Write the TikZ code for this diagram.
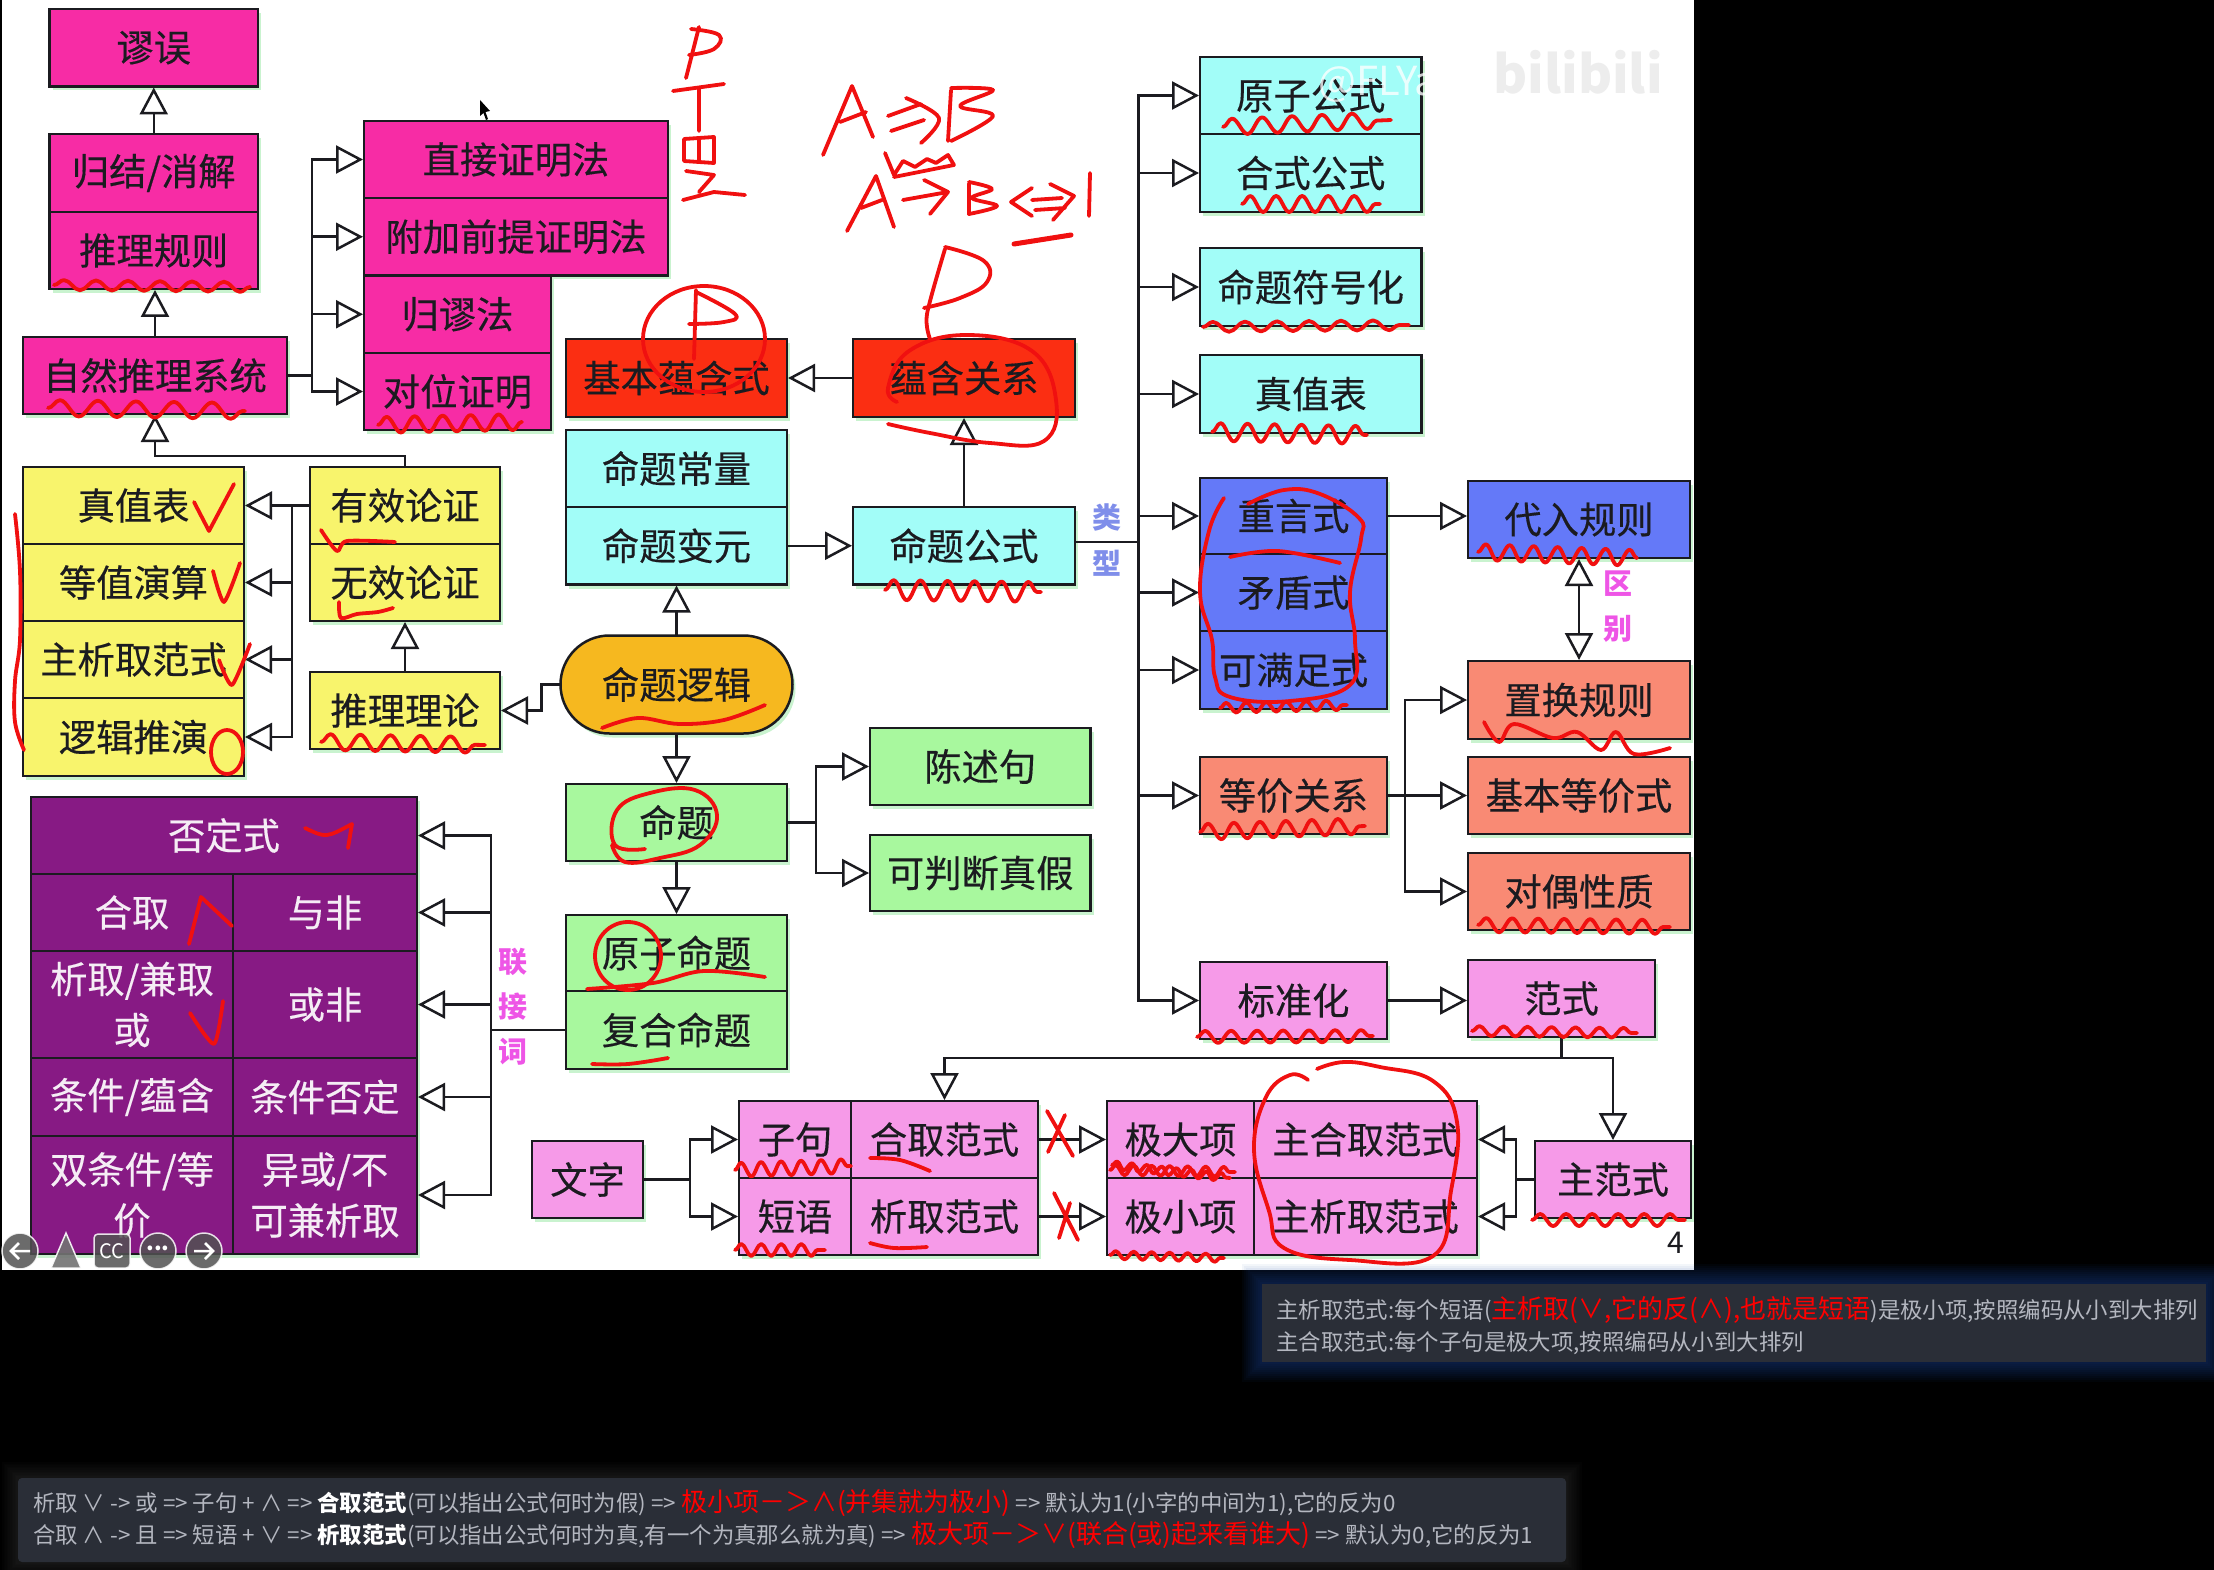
\documentclass[tikz,border=0pt]{standalone}
\usepackage{fontspec}
\setmainfont{Noto Sans CJK SC}
\newfontfamily\boxfont[FakeBold=0.35]{Noto Sans CJK SC}
\usetikzlibrary{arrows.meta,shapes.misc,shadows,calc,decorations.pathmorphing}
\definecolor{cmag}{HTML}{F72CA5}
\definecolor{cred}{HTML}{FB2E12}
\definecolor{ccya}{HTML}{A2FDF8}
\definecolor{cyel}{HTML}{F8F46C}
\definecolor{cpur}{HTML}{871A84}
\definecolor{cgre}{HTML}{A8F89E}
\definecolor{cblu}{HTML}{6479F8}
\definecolor{csal}{HTML}{F98A74}
\definecolor{cpin}{HTML}{F69AE8}
\definecolor{cora}{HTML}{F6B81F}
\definecolor{cink}{HTML}{1B1B20}
\definecolor{cshd}{HTML}{C9F3CF}
\definecolor{cpan}{HTML}{2A2E37}
\definecolor{cgry}{HTML}{B4B7C0}
\definecolor{chnd}{HTML}{F01010}
\definecolor{clab}{HTML}{EE55E6}
\definecolor{ctyp}{HTML}{7F8EEA}
\definecolor{cgl}{HTML}{1E4FA8}
\tikzset{
  x=1pt,y=-1pt,
  nodebox/.style={draw=cink,line width=2.5pt,inner sep=0pt,outer sep=0pt,text=cink,align=center,
    font=\boxfont\fontsize{37.3}{51}\selectfont,
    general shadow={fill=cshd,shadow xshift=3pt,shadow yshift=-4pt}},
  whitetext/.style={text=white!92!cpur},
  arr/.style={draw=cink,line width=2.5pt,-{Triangle[open,length=27pt,width=28pt,fill=white]},shorten >=1pt},
  biarr/.style={draw=cink,line width=2.5pt,{Triangle[open,length=27pt,width=28pt,fill=white]}-{Triangle[open,length=27pt,width=28pt,fill=white]},shorten >=1pt,shorten <=1pt},
  ln/.style={draw=cink,line width=2.5pt},
  sidelabel/.style={font=\fontsize{29}{32}\selectfont\bfseries,inner sep=0pt},
  hw/.style={draw=chnd,line width=3.8pt,line cap=round,line join=round},
  sq/.style 2 args={hw,decorate,decoration={snake,amplitude=#1pt,segment length=#2pt}},
  paneltext/.style={anchor=base west,inner sep=0pt,text=cgry,font=\fontsize{22.4}{26}\selectfont},
  navc/.style={fill=black!68,draw=white!75,line width=1.5pt,opacity=.85},
}
\newcommand{\boxnode}[7]{\node[nodebox,fill=#6,minimum width={#4-#2},minimum height={#5-#3},anchor=north west,#7] (#1) at (#2,#3)}
\newcommand{\redbig}[1]{{\fontsize{26}{30}\selectfont\color{red}#1}}
\newcommand{\wb}[1]{{\bfseries\color{white}#1}}
\begin{document}
\begin{tikzpicture}
\useasboundingbox (0,0) rectangle (2214,1570);
\fill[black] (0,0) rectangle (2214,1570);
\fill[white] (2,0) rectangle (1694,1270);
% glow panels
\foreach \i in {1,...,10}{
  \fill[cgl,opacity=.05] (1262-\i*2,1284-\i*2) rectangle (2206+\i*2,1362+\i*2);
  \fill[white,opacity=.012] (18-\i*1.6,1478-\i*1.6) rectangle (1566+\i*1.6,1562+\i*1.6);
}
\fill[cpan] (1262,1284) rectangle (2206,1362);
\fill[cpan,rounded corners=4pt] (18,1478) rectangle (1566,1562);
% left column
\boxnode{miuwu}{49.5}{9}{258}{86.5}{cmag}{}{谬误};
\boxnode{guijie}{49.5}{134}{258}{212}{cmag}{}{归结/消解};
\boxnode{tuili}{49.5}{212}{258}{289}{cmag}{}{推理规则};
\boxnode{ziran}{23}{337}{287}{414}{cmag}{}{自然推理系统};
\boxnode{zhijie}{364}{121}{668}{198}{cmag}{}{直接证明法};
\boxnode{fujia}{364}{198}{668}{275.5}{cmag}{}{附加前提证明法};
\boxnode{guimiu}{364}{275.5}{551}{353}{cmag}{}{归谬法};
\boxnode{duiwei}{364}{353}{551}{430}{cmag}{}{对位证明};
\boxnode{jiben}{566}{339}{787}{417}{cred}{}{基本蕴含式};
\boxnode{yunhan}{853}{339}{1075}{417}{cred}{}{蕴含关系};
\boxnode{changl}{566}{430}{787}{507}{ccya}{}{命题常量};
\boxnode{bianyuan}{566}{507}{787}{584.5}{ccya}{}{命题变元};
\boxnode{gongshi}{853}{507}{1075}{584.5}{ccya}{}{命题公式};
\boxnode{zhenzhi}{23}{467}{244}{544}{cyel}{}{真值表};
\boxnode{dengzhi}{23}{544}{244}{621}{cyel}{}{等值演算};
\boxnode{zhuxi}{23}{621}{244}{698}{cyel}{}{主析取范式};
\boxnode{luoji}{23}{698}{244}{776}{cyel}{}{逻辑推演};
\boxnode{youxiao}{310}{467}{500}{544}{cyel}{}{有效论证};
\boxnode{wuxiao}{310}{544}{500}{621}{cyel}{}{无效论证};
\boxnode{tlilun}{310}{672}{500}{749}{cyel}{}{推理理论};
\node[nodebox,fill=cora,shape=rounded rectangle,minimum width=232,minimum height=98] (mingluo) at (676.5,684.5) {命题逻辑};
\boxnode{mingti}{566}{784}{787}{861}{cgre}{}{命题};
\boxnode{yuanzi}{566}{915}{787}{991}{cgre}{}{原子命题};
\boxnode{fuhe}{566}{991}{787}{1069}{cgre}{}{复合命题};
\boxnode{chenshu}{870}{728}{1090.5}{805}{cgre}{}{陈述句};
\boxnode{panduan}{870}{835}{1090.5}{911}{cgre}{}{可判断真假};
% connectives
\boxnode{fouding}{31}{797}{417}{874}{cpur}{whitetext}{否定式};
\boxnode{hequ}{31}{874}{233}{951}{cpur}{whitetext}{合取};
\boxnode{yufei}{233}{874}{417}{951}{cpur}{whitetext}{与非};
\boxnode{xiqu}{31}{951}{233}{1058}{cpur}{whitetext}{析取/兼取\\或};
\boxnode{huofei}{233}{951}{417}{1058}{cpur}{whitetext}{或非};
\boxnode{tiaojian}{31}{1058}{233}{1136}{cpur}{whitetext}{条件/蕴含};
\boxnode{tiaofou}{233}{1058}{417}{1136}{cpur}{whitetext}{条件否定};
\boxnode{shuang}{31}{1136}{233}{1254}{cpur}{whitetext}{双条件/等\\价};
\boxnode{yihuo}{233}{1136}{417}{1254}{cpur}{whitetext}{异或/不\\可兼析取};
% bottom row
\boxnode{wenzi}{532}{1141}{643}{1218}{cpin}{}{文字};
\boxnode{ziju}{739}{1101}{851}{1178}{cpin}{}{子句};
\boxnode{duanyu}{739}{1178}{851}{1255}{cpin}{}{短语};
\boxnode{hefan}{851}{1101}{1038}{1178}{cpin}{}{合取范式};
\boxnode{xifan}{851}{1178}{1038}{1255}{cpin}{}{析取范式};
\boxnode{jida}{1107}{1101}{1254}{1178}{cpin}{}{极大项};
\boxnode{jixiao}{1107}{1178}{1254}{1255}{cpin}{}{极小项};
\boxnode{zhuhe}{1254}{1101}{1477}{1178}{cpin}{}{主合取范式};
\boxnode{zhuxifan}{1254}{1178}{1477}{1255}{cpin}{}{主析取范式};
\boxnode{zhufan}{1535}{1141}{1691}{1218}{cpin}{}{主范式};
\boxnode{fanshi}{1468}{960}{1655}{1037}{cpin}{}{范式};
\boxnode{biaozhun}{1200}{962}{1387}{1039}{cpin}{}{标准化};
% right column
\boxnode{yzgs}{1200}{57}{1421.5}{134}{ccya}{}{原子公式};
\boxnode{hsgs}{1200}{134}{1421.5}{212}{ccya}{}{合式公式};
\boxnode{fuhao}{1200}{248}{1421.5}{326}{ccya}{}{命题符号化};
\boxnode{zzb}{1200}{355}{1421.5}{433}{ccya}{}{真值表};
\boxnode{chongyan}{1200}{478}{1387}{554}{cblu}{}{重言式};
\boxnode{maodun}{1200}{554}{1387}{631}{cblu}{}{矛盾式};
\boxnode{keman}{1200}{631}{1387}{709}{cblu}{}{可满足式};
\boxnode{dairu}{1468}{481}{1690}{558}{cblu}{}{代入规则};
\boxnode{zhihuan}{1468}{661}{1690}{739}{csal}{}{置换规则};
\boxnode{dengjia}{1200}{757}{1387}{834}{csal}{}{等价关系};
\boxnode{jbdj}{1468}{757}{1690}{834}{csal}{}{基本等价式};
\boxnode{duiou}{1468}{853}{1690}{930}{csal}{}{对偶性质};
% side labels
\node[sidelabel,text=ctyp] (leiA) at (1107,517.5) {类};
\node[sidelabel,text=ctyp] (leiB) at (1107,563) {型};
\node[sidelabel,text=clab] (quA) at (1618,584) {区};
\node[sidelabel,text=clab] (quB) at (1618,629) {别};
\node[sidelabel,text=clab] (lianA) at (513,962) {联};
\node[sidelabel,text=clab] (lianB) at (513,1007) {接};
\node[sidelabel,text=clab] (lianC) at (513,1052) {词};
% connectors
\draw[arr] (guijie.north) -- (miuwu.south);
\draw[arr] (ziran.north) -- (tuili.south -| ziran.north);
\draw[arr] (ziran.east) -- ++(25,0) |- (zhijie.west);
\draw[arr] (ziran.east) -- ++(25,0) |- (fujia.west);
\draw[arr] (ziran.east) -- ++(25,0) |- (guimiu.west);
\draw[arr] (ziran.east) -- ++(25,0) |- (duiwei.west);
\draw[arr] (youxiao.north) |- ($(ziran.south)+(0,42)$) -- (ziran.south);
\draw[arr] (youxiao.west) -- (zhenzhi.east);
\draw[arr] (youxiao.west) -- ++(-18,0) |- (dengzhi.east);
\draw[arr] (youxiao.west) -- ++(-18,0) |- (zhuxi.east);
\draw[arr] (youxiao.west) -- ++(-18,0) |- (luoji.east);
\draw[arr] (tlilun.north) -- (wuxiao.south);
\draw[arr] (mingluo.west) -- ++(-19,0) |- (tlilun.east);
\draw[arr] (mingluo.north) -- (bianyuan.south);
\draw[arr] (mingluo.south) -- (mingti.north);
\draw[arr] (mingti.south) -- (yuanzi.north);
\draw[arr] (mingti.east) -- ++(29,0) |- (chenshu.west);
\draw[arr] (mingti.east) -- ++(29,0) |- (panduan.west);
\draw[arr] (bianyuan.east) -- (gongshi.west);
\draw[arr] (gongshi.north) -- (yunhan.south);
\draw[arr] (yunhan.west) -- (jiben.east);
\draw[arr] (fuhe.west) -- ++(-75,0) |- (fouding.east);
\draw[arr] (fuhe.west) -- ++(-75,0) |- (yufei.east);
\draw[arr] (fuhe.west) -- ++(-75,0) |- (huofei.east);
\draw[arr] (fuhe.west) -- ++(-75,0) |- (tiaofou.east);
\draw[arr] (fuhe.west) -- ++(-75,0) |- (yihuo.east);
\draw[arr] (wenzi.east) -- ++(47,0) |- (ziju.west);
\draw[arr] (wenzi.east) -- ++(47,0) |- (duanyu.west);
\draw[arr] (hefan.east) -- (jida.west);
\draw[arr] (xifan.east) -- (jixiao.west);
\draw[arr] (zhufan.west) -- ++(-19,0) |- (zhuhe.east);
\draw[arr] (zhufan.west) -- ++(-19,0) |- (zhuxifan.east);
\draw[arr] (fanshi.south) |- ($(zhufan.north)+(0,-83)$) -- (zhufan.north);
\draw[arr] (fanshi.south) |- ($(hefan.north)+(0,-43)$) -- (hefan.north);
\draw[arr] (biaozhun.east) -- (fanshi.west |- biaozhun.east);
\draw[arr] (chongyan.east) -- (dairu.west |- chongyan.east);
\draw[biarr] (dairu.south) -- (zhihuan.north -| dairu.south);
\draw[arr] (dengjia.east) -- ++(18,0) |- (zhihuan.west);
\draw[arr] (dengjia.east) -- (jbdj.west);
\draw[arr] (dengjia.east) -- ++(18,0) |- (duiou.west);
\foreach \t in {yzgs,hsgs,fuhao,zzb,chongyan,maodun,keman,dengjia,biaozhun}{
  \draw[arr] (gongshi.east |- 0,542) -- ++(63.5,0) |- (\t.west);
}
% cursor
\fill[black] (480,100) -- (480,116) -- (483.5,113) -- (486,120) -- (488,119) -- (485.5,112) -- (490,111) -- cycle;
% page number, watermark
\node[inner sep=0pt,text=cink,font=\fontsize{30}{32}\selectfont] (pageno) at (1676,1243) {4};
\node[inner sep=0pt,text=black!7,font=\fontsize{52}{54}\selectfont\bfseries] (wmb) at (1578,72) {bilibili};
\node[inner sep=0pt,text=white,opacity=.78,font=\fontsize{40}{42}\selectfont] (wma) at (1390,84) {@FLYan};
% nav icons
\fill[navc] (20,1251) circle (18);
\fill[navc] (158,1251) circle (18);
\fill[navc] (204,1251) circle (18);
\fill[black!68,draw=white!75,line width=1.5pt,opacity=.85,rounded corners=4pt] (94,1234) rectangle (130,1268);
\fill[black!55,draw=white!70,line width=1.5pt,opacity=.9] (66,1233) -- (51,1268) -- (81,1268) -- cycle;
\draw[white!85,line width=2.5pt] (30,1251) -- (11,1251) (19,1243) -- (11,1251) -- (19,1259);
\draw[white!85,line width=2.5pt] (194,1251) -- (213,1251) (205,1243) -- (213,1251) -- (205,1259);
\node[inner sep=0pt,text=white!85,font=\fontsize{20}{22}\selectfont] (navcc) at (112,1251) {CC};
\node[inner sep=0pt,text=white!90,font=\fontsize{22}{22}\selectfont\bfseries] (navdot) at (158,1248) {...};
% subtitle text
\node[paneltext] (subA) at (1276,1318) {主析取范式:每个短语(\redbig{主析取(∨,它的反(∧),也就是短语})是极小项,按照编码从小到大排列};
\node[paneltext] (subB) at (1276,1350) {主合取范式:每个子句是极大项,按照编码从小到大排列};
\node[paneltext] (subC) at (33,1511) {析取 ∨ -> 或 => 子句 + ∧ => \wb{合取范式}(可以指出公式何时为假) => \redbig{极小项－＞∧(并集就为极小)} => 默认为1(小字的中间为1),它的反为0};
\node[paneltext] (subD) at (33,1543) {合取 ∧ -> 且 => 短语 + ∨ => \wb{析取范式}(可以指出公式何时为真,有一个为真那么就为真) => \redbig{极大项－＞∨(联合(或)起来看谁大)} => 默认为0,它的反为1};
% handwriting: squiggles
\draw[sq={5}{32}] (54,285) -- (250,287);
\draw[sq={8}{38}] (48,408) -- (245,411);
\draw[sq={8}{28}] (378,425) -- (522,422);
\draw[sq={8}{30}] (321,742) -- (485,745);
\draw[sq={7}{20}] (735,1170) -- (851,1166);
\draw[sq={6}{20}] (735,1250) -- (825,1250);
\draw[sq={5}{18}] (1110,1170) -- (1235,1172);
\draw[sq={4}{15}] (1112,1165) -- (1230,1178);
\draw[sq={4}{18}] (1110,1255) -- (1224,1258);
\draw[sq={6}{26}] (1532,1220) -- (1685,1220);
\draw[sq={5}{24}] (1472,1031) -- (1637,1033);
\draw[sq={6}{26}] (1197,1037) -- (1373,1036);
\draw[sq={7}{26}] (1478,925) -- (1670,927);
\draw[sq={8}{26}] (1200,832) -- (1365,826);
\draw[sq={5}{20}] (1220,708) -- (1347,705);
\draw[sq={8}{24}] (1478,552) -- (1637,558);
\draw[sq={9}{27}] (1212,432) -- (1367,435);
\draw[sq={5}{32}] (1203,327) -- (1409,325);
\draw[sq={8}{26}] (1242,204) -- (1380,204);
\draw[sq={8}{30}] (1223,127) -- (1391,120);
\draw[sq={10}{27}] (885,590) -- (1041,592);
\draw[hw] plot[smooth,tension=.6] coordinates {(1484,722) (1499,742) (1514,724) (1553,738) (1577,732) (1601,750) (1616,732) (1634,754) (1670,748)};
% handwriting: marks
\draw[hw] plot[smooth,tension=.5] coordinates {(321,530) (337,551) (347,541) (395,542)};
\draw[hw] plot[smooth,tension=.5] coordinates {(339,602) (341,618) (357,614) (378,612) (393,608)};
\draw[hw] (194,502) -- (209,531) -- (234,484);
\draw[hw] plot[smooth,tension=.4] coordinates {(213,571) (224,602) (240,563)};
\draw[hw] plot[smooth,tension=.4] coordinates {(219,660) (232,685) (250,644)};
\draw[hw] (227,752) ellipse [x radius=16,y radius=22];
\draw[hw] plot[smooth,tension=.6] coordinates {(15,514) (20,571) (20,640) (15,681) (15,722) (24,750)};
\draw[hw] plot[smooth,tension=.6] coordinates {(602,728) (638,718) (679,724) (724,720) (765,705)};
\draw[hw] (305,828) .. controls (326,838) .. (352,824) -- (348,848);
\draw[hw] (189,944) -- (201,897) -- (232,926);
\draw[hw] plot[smooth,tension=.4] coordinates {(190,1013) (214,1044) (223,1001)};
\draw[hw] plot[smooth,tension=.7] coordinates {(645,849) (615,845) (617,810) (650,793) (695,790) (717,815) (700,845) (660,858) (625,862) (612,845)};
\draw[hw] (628,956) ellipse [x radius=33,y radius=34];
\draw[hw] plot[smooth,tension=.6] coordinates {(587,989) (653,983) (704,971) (765,977)};
\draw[hw] plot[smooth,tension=.6] coordinates {(592,1064) (628,1064) (668,1058)};
\draw[hw] plot[smooth,tension=.6] coordinates {(870,1158) (900,1160) (930,1171)};
\draw[hw] plot[smooth,tension=.6] coordinates {(870,1243) (894,1248) (927,1247)};
\draw[hw] (1047,1111) -- (1073,1156) (1065,1115) -- (1048,1152);
\draw[hw] (1054,1193) -- (1078,1240) (1070,1203) -- (1059,1238);
\draw[hw] plot[smooth,tension=.7] coordinates {(1308,1080) (1290,1075) (1266,1097) (1254,1150) (1269,1211) (1284,1248) (1350,1260) (1433,1256) (1451,1191) (1457,1122) (1433,1081) (1380,1067) (1344,1062) (1317,1069)};
\draw[hw] plot[smooth,tension=.7] coordinates {(1224,498) (1209,531) (1200,592) (1212,640) (1215,677) (1230,697) (1290,701) (1350,685) (1355,640) (1350,592) (1361,539) (1359,518) (1320,494) (1284,490) (1248,504)};
\draw[hw] plot[smooth,tension=.6] coordinates {(1230,557) (1278,551) (1340,563)};
\draw[hw] plot[smooth,tension=.7] coordinates {(897,402) (888,388) (909,351) (966,335) (1032,351) (1056,400) (1044,441) (990,443) (930,433) (888,424)};
% P above
\draw[hw] plot[smooth,tension=.5] coordinates {(930,339) (927,314) (945,249)};
\draw[hw] plot[smooth,tension=.7] coordinates {(945,247) (984,261) (987,282) (960,298) (924,308)};
% A=>B
\draw[hw] (823,155) -- (852,86) -- (873,137) (840,122) -- (866,112);
\draw[hw] (888,116) -- (921,104) (891,131) -- (924,120);
\draw[hw] plot[smooth,tension=.6] coordinates {(906,98) (939,118) (921,143)};
\draw[hw] (951,90) -- (948,141);
\draw[hw] plot[smooth,tension=.6] coordinates {(951,88) (993,90) (960,106) (993,116) (951,141)};
\draw[hw] (885,153) -- (894,175) -- (903,161) -- (915,167) -- (927,159) -- (936,163) -- (948,155) -- (954,165) -- (894,177);
\draw[hw] (847,231) -- (876,176) -- (894,227) (861,208) -- (882,200);
\draw[hw] (903,200) -- (948,192) (924,180) -- (948,192) -- (930,214);
\draw[hw] (969,184) -- (969,214);
\draw[hw] plot[smooth,tension=.6] coordinates {(969,182) (992,189) (972,198) (997,206) (969,214)};
\draw[hw] (1032,188) -- (1011,202) -- (1032,216) (1032,200) -- (1062,198) (1035,210) -- (1065,208) (1050,184) -- (1074,196) -- (1053,220);
\draw[hw] (1090,173) -- (1089,216);
\draw[hw,line width=5pt] (1014,244) -- (1071,235);
% P T zhi
\draw[hw] (699,27) -- (686,78);
\draw[hw] plot[smooth,tension=.7] coordinates {(691,29) (719,35) (714,49) (689,55)};
\draw[hw] (673,91) -- (724,84) (699,88) -- (699,131);
\draw[hw] (684,139) -- (714,137) -- (714,163) -- (684,161) -- cycle (699,139) -- (699,161);
\draw[hw] (686,171) -- (714,175) -- (699,192) (683,200) -- (714,192) -- (745,195);
% circled P
\draw[hw] (704,339) ellipse [x radius=61,y radius=53];
\draw[hw] (696,290) -- (694,359);
\draw[hw] plot[smooth,tension=.7] coordinates {(696,292) (735,314) (724,322) (689,324)};
\end{tikzpicture}
\end{document}
